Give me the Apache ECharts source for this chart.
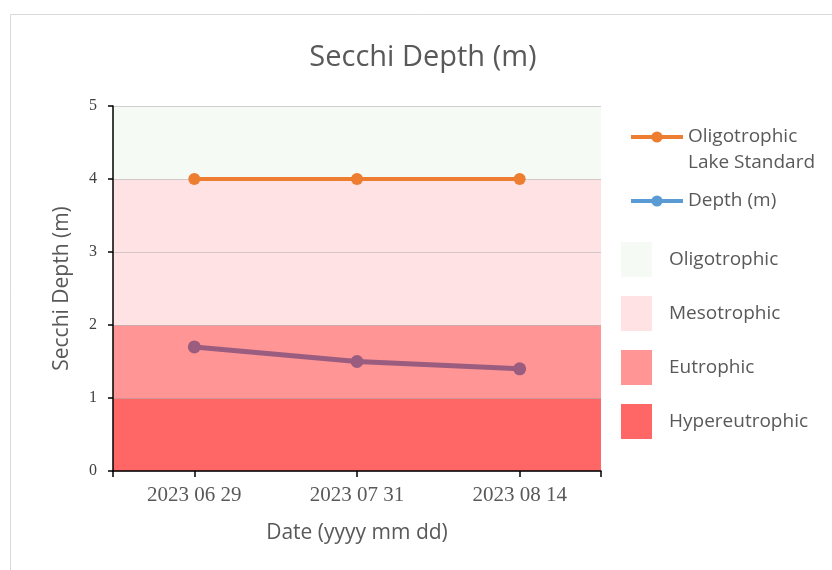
<!DOCTYPE html>
<html>
<head>
<meta charset="utf-8">
<title>Secchi Depth</title>
<script src="https://cdn.jsdelivr.net/npm/echarts@6/dist/echarts.min.js"></script>
<style>
  html, body { margin: 0; padding: 0; background: #fff; }
  #chart { width: 832px; height: 570px; }
</style>
</head>
<body>
<div id="chart"></div>
<script>
// 日期
const dates = ['2023 06 29', '2023 07 31', '2023 08 14']
// 透明度实测 (m)
const depth = [1.7, 1.5, 1.4]
// 贫营养湖标准
const standard = [4, 4, 4]
// 营养状态分区（上下界）
const bandNames = ['Oligotrophic', 'Mesotrophic', 'Eutrophic', 'Hypereutrophic']
const bandLow = [4, 2, 1, 0]
const bandHigh = [5, 4, 2, 1]
const bandColors = ['#f5faf4', '#ffe3e4', '#ff9595', '#ff6666']
const yTicks = [0, 1, 2, 3, 4, 5]

const chart = echarts.init(document.getElementById('chart'))

// 背景分区：用 markArea 画整条色带
const bandSeries = bandNames.map((name, i) => ({
  name: name,
  type: 'bar',
  data: [],
  silent: true,
  z: 1,
  itemStyle: { color: bandColors[i] },
  markArea: {
    silent: true,
    itemStyle: { color: bandColors[i], opacity: 1, borderWidth: 0 },
    data: [[{ yAxis: bandLow[i] }, { yAxis: bandHigh[i] }]]
  }
}))

const option = {
  animation: false,
  graphic: [{
    type: 'rect',
    shape: { x: 10.5, y: 14.5, width: 840, height: 600 },
    style: { fill: 'none', stroke: '#d9d9d9', lineWidth: 1 },
    z: -1
  }],
  title: {
    text: 'Secchi Depth (m)',
    left: 418,
    textAlign: 'center',
    top: 38,
    textStyle: { fontFamily: 'Open Sans', fontSize: 29, fontWeight: 'normal', color: '#595959' }
  },
  legend: [
    {
      orient: 'vertical',
      left: 624,
      top: 93,
      itemWidth: 52,
      itemHeight: 14,
      itemGap: 12,
      textStyle: { fontFamily: 'Open Sans', fontSize: 19, color: '#595959', lineHeight: 26 },
      data: [
        {
          name: 'Oligotrophic Lake Standard',
          itemStyle: { color: '#ed7d31' },
          lineStyle: { color: '#ed7d31', width: 4 }
        },
        {
          name: 'Depth (m)',
          itemStyle: { color: '#5b9bd5' },
          lineStyle: { color: '#5b9bd5', width: 4 }
        }
      ],
      // 首行与图标对齐：上方补一空行
      formatter: (name) => name === 'Oligotrophic Lake Standard' ? ' \nOligotrophic\nLake Standard' : name
    },
    {
      orient: 'vertical',
      left: 616,
      top: 237,
      icon: 'rect',
      itemWidth: 31,
      itemHeight: 35,
      itemGap: 19,
      textStyle: { fontFamily: 'Open Sans', fontSize: 19, color: '#595959', padding: [0, 0, 0, 12] },
      data: bandNames
    }
  ],
  grid: { left: 113, right: 231, top: 106, bottom: 99 },
  xAxis: [
    {
      type: 'category',
      data: dates,
      boundaryGap: true,
      name: 'Date (yyyy mm dd)',
      nameLocation: 'middle',
      nameGap: 52,
      nameTextStyle: { fontFamily: 'Open Sans', fontSize: 21, color: '#595959' },
      axisLine: { lineStyle: { color: '#000', width: 1.5 } },
      axisTick: { show: true, alignWithLabel: true, length: 6, lineStyle: { color: '#000', width: 1.5 } },
      axisLabel: { fontFamily: 'Liberation Serif', fontSize: 21, color: '#595959', margin: 14 },
      splitLine: { show: false },
      z: 3
    },
    {
      // 仅用于补上右端刻度
      type: 'category',
      data: dates,
      position: 'bottom',
      boundaryGap: true,
      axisLine: { show: false },
      axisLabel: { show: false },
      axisTick: { show: true, alignWithLabel: false, length: 6, interval: (index) => index === 2, lineStyle: { color: '#000', width: 1.5 } },
      splitLine: { show: false },
      z: 3
    }
  ],
  yAxis: {
    type: 'value',
    min: yTicks[0],
    max: yTicks[yTicks.length - 1],
    interval: 1,
    name: 'Secchi Depth (m)',
    nameLocation: 'middle',
    nameGap: 40,
    nameTextStyle: { fontFamily: 'Open Sans', fontSize: 21, color: '#595959' },
    axisLine: { show: true, lineStyle: { color: '#000', width: 1.5 } },
    axisTick: { show: true, length: 5, lineStyle: { color: '#000', width: 1.5 } },
    axisLabel: { fontFamily: 'Liberation Serif', fontSize: 16, color: '#404040', margin: 16 },
    splitLine: { show: true, lineStyle: { color: 'rgba(180,180,180,0.6)', width: 1 } },
    z: 3
  },
  series: [
    ...bandSeries,
    {
      name: 'Oligotrophic Lake Standard',
      type: 'line',
      z: 5,
      data: standard,
      symbol: 'circle',
      symbolSize: 12,
      lineStyle: { color: '#ed7d31', width: 4 },
      itemStyle: { color: '#ed7d31' }
    },
    {
      name: 'Depth (m)',
      type: 'line',
      z: 5,
      data: depth,
      symbol: 'circle',
      symbolSize: 13,
      lineStyle: { color: '#9a5d80', width: 5 },
      itemStyle: { color: '#9a5d80' }
    }
  ]
}

chart.setOption(option)
</script>
</body>
</html>
